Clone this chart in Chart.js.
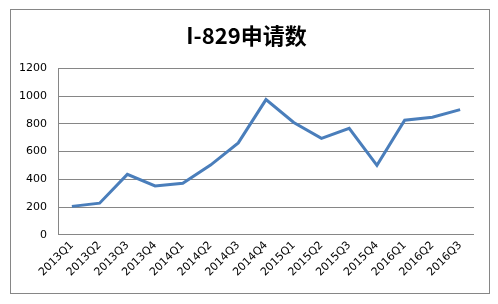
<!DOCTYPE html>
<html>
<head>
<meta charset="utf-8">
<script src="https://cdn.jsdelivr.net/npm/chart.js@4"></script>
<style>
    body { margin: 0; background: #fff; }
    #box { position: absolute; left: 10px; top: 9px; width: 478px; height: 283px; border: 1px solid #868686; }
</style>
</head>
<body>
<div id="box"><canvas id="chart"></canvas></div>
<script>
const quarters = ['2013Q1','2013Q2','2013Q3','2013Q4','2014Q1','2014Q2','2014Q3','2014Q4','2015Q1','2015Q2','2015Q3','2015Q4','2016Q1','2016Q2','2016Q3'];
const applications = [205, 228, 436, 352, 372, 503, 663, 975, 810, 696, 768, 501, 826, 848, 903];
const yTicks = [0, 200, 400, 600, 800, 1000, 1200];

const config = {
    type: 'line',
    data: {
        labels: quarters,
        datasets: [
            {
                label: 'I-829申请数',
                data: applications,
                borderColor: '#4A7EBB',
                backgroundColor: '#4A7EBB',
                borderWidth: 3,
                pointRadius: 0,
                tension: 0,
                fill: false
            }
        ]
    },
    options: {
        responsive: true,
        maintainAspectRatio: false,
        animation: false,
        layout: {
            padding: { left: 8, right: 15, top: 0, bottom: 10 }
        },
        plugins: {
            legend: { display: false },
            tooltip: { enabled: false },
            title: {
                display: true,
                text: 'I-829申请数',
                color: '#000',
                font: { family: '"Noto Sans CJK SC", "DejaVu Sans"', size: 22, weight: 'bold' },
                padding: { top: 12, bottom: 20 }
            }
        },
        scales: {
            x: {
                offset: true,
                grid: { display: false, drawTicks: false },
                border: { display: false },
                ticks: {
                    color: '#000',
                    autoSkip: false,
                    maxRotation: 45,
                    minRotation: 45,
                    padding: 4,
                    font: { family: '"DejaVu Sans"', size: 11 }
                }
            },
            y: {
                min: 0,
                max: 1200,
                afterBuildTicks: axis => { axis.ticks = yTicks.map(v => ({ value: v })); },
                // fixed axis width so the plot starts where the reference does
                afterFit: axis => { axis.width = 39; },
                grid: { color: '#868686', drawTicks: false, lineWidth: 1 },
                border: { display: true, color: '#868686' },
                ticks: {
                    color: '#000',
                    padding: 11,
                    callback: v => String(v),
                    font: { family: '"DejaVu Sans"', size: 11 }
                }
            }
        }
    }
};

new Chart(document.getElementById('chart'), config);
</script>
</body>
</html>
